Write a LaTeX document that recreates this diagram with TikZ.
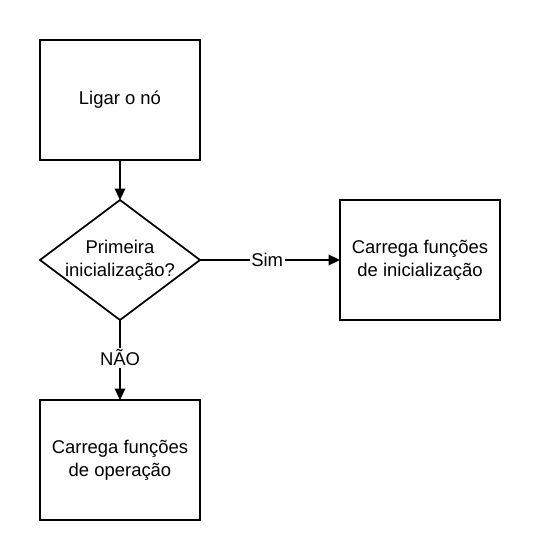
\documentclass[tikz,border=0pt]{standalone}
\usepackage{fontspec}
\setmainfont{Liberation Sans}
\usetikzlibrary{arrows.meta,positioning,shapes.geometric}

\begin{document}
\begin{tikzpicture}[>={Triangle[length=6.5pt,width=6pt]},line width=1pt,
                    font=\fontsize{10.5}{13}\selectfont,
                    box node/.style={rectangle,draw,outer sep=0pt,minimum width=3.2cm,minimum height=2.4cm,align=center},
                    test node/.style={diamond,draw,outer sep=0pt,minimum width=3.2cm,minimum height=2.4cm,
                                      shape aspect=1.333,inner sep=-3pt,align=center}]
  \useasboundingbox (0,0) rectangle (10.8,-11.2);
  \node[box node] (ligar) at (2.4,-2.0) {Ligar o nó};
  \node[test node] (primeira) [below=0.8cm of ligar] {Primeira\\inicialização?};
  \node[box node] (init) [right=2.8cm of primeira] {Carrega funções\\de inicialização};
  \node[box node] (oper) [below=1.6cm of primeira] {Carrega funções\\de operação};
  \path[->,every node/.style={fill=white,inner sep=1pt}]
    (ligar) edge (primeira)
    (primeira) edge node [pos=0.48] {Sim} (init)
    (primeira) edge node [pos=0.47] {NÃO} (oper);
\end{tikzpicture}
\end{document}
